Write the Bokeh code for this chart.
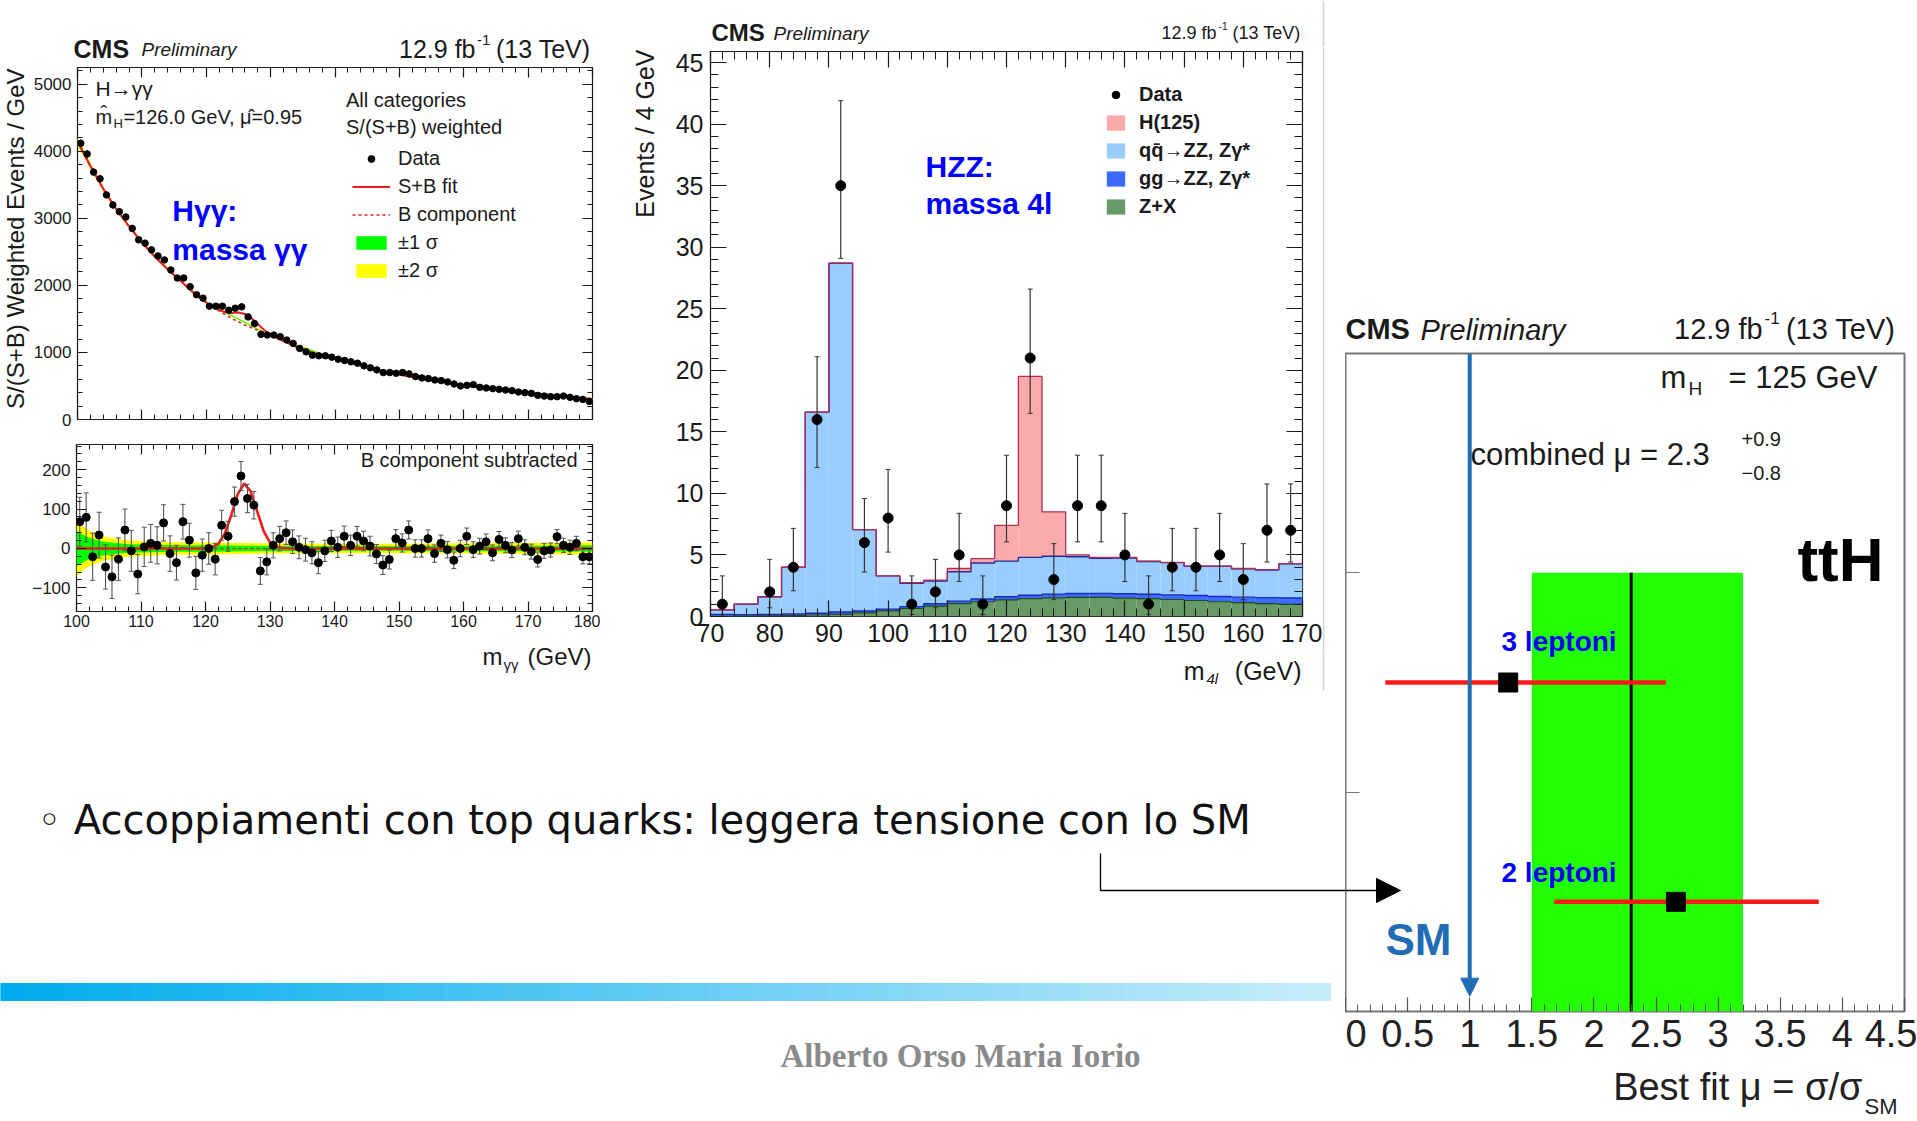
import numpy as np
from bokeh.plotting import figure
from bokeh.models import (Range1d, Label, LinearAxis, Legend, LegendItem, Arrow, NormalHead,
                          Spacer, SingleIntervalTicker, FixedTicker, NumeralTickFormatter)
from bokeh.layouts import row, column
from bokeh.embed import file_html
from bokeh.resources import INLINE

# ======================= DATA =======================
# --- H -> gamma gamma : upper panel, S/(S+B) weighted events / GeV (1 GeV bins) ---
hgg_mass = np.arange(100.5, 180.0, 1.0)
hgg_events = [4120, 3960, 3690, 3590, 3350, 3200, 3100, 3020, 2850, 2680,
              2630, 2530, 2440, 2380, 2230, 2110, 2110, 1980, 1860, 1810,
              1690, 1690, 1690, 1630, 1660, 1680, 1530, 1430, 1270, 1260,
              1260, 1235, 1185, 1135, 1060, 1010, 960, 950, 950, 930,
              900, 880, 860, 840, 800, 770, 740, 700, 700, 690,
              700, 680, 640, 620, 610, 590, 580, 560, 530, 500,
              510, 520, 480, 470, 460, 450, 440, 430, 410, 400,
              390, 360, 350, 340, 340, 350, 330, 310, 300, 270]
hgg_err = [62, 62, 60, 58, 56, 55, 54, 53, 52, 50,
           50, 48, 47, 46, 45, 44, 44, 43, 42, 41,
           40, 40, 38, 38, 37, 37, 36, 35, 34, 33,
           32, 31, 30, 30, 29, 29, 28, 28, 27, 27,
           26, 26, 26, 25, 25, 25, 24, 24, 24, 23,
           23, 23, 22, 22, 22, 22, 21, 21, 21, 21,
           21, 20, 20, 20, 20, 20, 19, 19, 19, 19,
           19, 19, 19, 18, 18, 18, 18, 18, 18, 18]
# background component of the fit
hgg_bkg_mass = np.arange(100, 181, 2)
hgg_bkg = [4150, 3780, 3440, 3140, 2880, 2640, 2430, 2240, 2070, 1890,
           1745, 1620, 1505, 1410, 1330, 1250, 1170, 1085, 1010, 955,
           905, 860, 815, 760, 700, 670, 635, 600, 570, 540,
           510, 485, 460, 440, 420, 400, 380, 360, 345, 325, 305]
# signal component of the fit
hgg_sig_mass = np.arange(119, 134, 1)
hgg_sig = [0, 1, 3, 12, 38, 85, 138, 165, 145, 95, 45, 15, 4, 1, 0]
# lower panel: B component subtracted
hgg_sub = [68, 79, -21, 34, -47, -72, -27, 47, -6, -65,
           4, 13, 8, 65, -13, -36, 68, 21, -62, -17,
           0, -27, 59, 31, 119, 184, 127, 110, -57, -34,
           8, 25, 40, 17, 3, -3, -11, -36, -6, 19,
           3, 31, 8, 31, 19, 6, -14, -42, -28, 25,
           14, 47, 0, 0, 25, -13, 13, -3, -30, 0,
           31, -3, 6, 17, -11, 23, 8, -4, 25, 3,
           -8, -28, -6, -4, 30, 8, 3, 13, -21, -21]
hgg_band_mass = [100, 101, 102, 103, 104, 106, 108, 110, 115, 120, 130, 140, 150, 160, 170, 180]
hgg_band1 = [45, 35, 27, 22, 18, 14, 11, 10, 8, 8, 7, 6, 6, 7, 7, 8]
hgg_band2 = [72, 55, 45, 38, 32, 25, 21, 19, 16, 15, 13, 12, 12, 13, 14, 16]

# --- H -> ZZ -> 4l : events / 4 GeV ---
hzz_edges = np.arange(70, 171, 4)
hzz_zx = [0.02, 0.03, 0.05, 0.08, 0.12, 0.18, 0.30, 0.45, 0.65, 0.85, 1.05, 1.20, 1.35,
          1.45, 1.52, 1.55, 1.55, 1.50, 1.45, 1.38, 1.30, 1.20, 1.12, 1.05, 0.98]
hzz_gg = [0.15, 0.12, 0.12, 0.12, 0.15, 0.18, 0.15, 0.15, 0.15, 0.18, 0.20, 0.22, 0.25,
          0.28, 0.30, 0.32, 0.33, 0.35, 0.36, 0.38, 0.40, 0.42, 0.45, 0.48, 0.52]
hzz_qq = [0.38, 0.85, 1.43, 3.80, 16.33, 28.34, 6.61, 2.70, 1.90, 1.85, 2.39, 2.93, 2.90,
          3.07, 3.08, 2.98, 2.84, 2.90, 2.66, 2.62, 2.38, 2.46, 2.31, 2.25, 2.78]
hzz_h = [0, 0, 0, 0, 0, 0, 0, 0, 0.05, 0.08, 0.26, 0.35, 2.90,
         14.70, 3.60, 0.15, 0.08, 0.05, 0.03, 0.02, 0.02, 0.02, 0.02, 0.02, 0.02]
hzz_data_mass = [72, 80, 84, 88, 92, 96, 100, 104, 108, 112, 116, 120, 124, 128, 132, 136,
                 140, 144, 148, 152, 156, 160, 164, 168]
hzz_data = [1, 2, 4, 16, 35, 6, 8, 1, 2, 5, 1, 9, 21, 3, 9, 9, 5, 1, 4, 4, 5, 3, 7, 7]
hzz_data_lo = [0.17, 0.71, 2.09, 12.1, 29.1, 3.62, 5.23, 0.17, 0.71, 2.84, 0.17, 6.06, 16.5,
               1.37, 6.06, 6.06, 2.84, 0.17, 2.09, 2.09, 2.84, 1.37, 4.42, 4.42]
hzz_data_hi = [3.30, 4.64, 7.16, 21.1, 41.9, 9.58, 11.95, 3.30, 4.64, 8.38, 3.30, 13.1, 26.6,
               5.92, 13.1, 13.1, 8.38, 3.30, 7.16, 7.16, 8.38, 5.92, 10.77, 10.77]

# --- ttH signal strength ---
tth_channels = ["2 leptoni", "3 leptoni"]
tth_y = [0.5, 1.5]
tth_mu = [2.66, 1.31]
tth_lo = [1.68, 0.32]
tth_hi = [3.81, 2.58]
tth_comb = 2.3
tth_comb_lo = 1.5
tth_comb_hi = 3.2
tth_sm = 1.0

# ======================= HELPERS =======================
FONT = "Liberation Sans"
INK = "#1a1a1a"
RED = "#ee1c1c"


def base_fig(w, h, xr, yr, bl, br, bt, bb):
    p = figure(width=w, height=h, x_range=Range1d(*xr), y_range=Range1d(*yr),
               output_backend="svg", toolbar_location=None,
               min_border_left=bl, min_border_right=br, min_border_top=bt, min_border_bottom=bb)
    p.grid.visible = False
    p.outline_line_color = INK
    p.outline_line_width = 1.2
    p.background_fill_color = "white"
    p.border_fill_color = "white"
    return p


def strip(x0, y0, w, h):
    s = figure(width=w, height=h, x_range=Range1d(x0, x0 + w), y_range=Range1d(y0 + h, y0),
               output_backend="svg", toolbar_location=None, min_border=0,
               x_axis_location=None, y_axis_location=None)
    s.grid.visible = False
    s.outline_line_color = None
    s.background_fill_color = "white"
    s.border_fill_color = "white"
    return s


def solo(p):
    # wrap a figure so that its frame is not aligned with its siblings
    return column(p)


def style_axis(ax, ticker, tmaj, tmin, size, standoff, labels=True, color=INK, lcolor=INK):
    ax.ticker = ticker
    ax.axis_line_color = None
    ax.major_tick_in = tmaj
    ax.major_tick_out = 0
    ax.minor_tick_in = tmin
    ax.minor_tick_out = 0
    ax.major_tick_line_color = color
    ax.minor_tick_line_color = color
    ax.major_tick_line_width = 1.2
    ax.minor_tick_line_width = 1
    ax.major_label_text_font = FONT
    if labels:
        ax.major_label_text_color = lcolor
        ax.major_label_text_font_size = size
        ax.major_label_standoff = standoff
    else:
        ax.major_label_text_color = None
        ax.major_label_text_font_size = "0px"
        ax.major_label_standoff = 0


def mirror(p, place, ticker, tmaj, tmin, color=INK):
    ax = LinearAxis()
    style_axis(ax, ticker, tmaj, tmin, "0px", 0, labels=False, color=color)
    p.add_layout(ax, place)


def mapper(xd0, xd1, px0, px1, yd0, yd1, py0, py1):
    def f(px, py):
        return (xd0 + (px - px0) * (xd1 - xd0) / (px1 - px0),
                yd0 + (py - py0) * (yd1 - yd0) / (py1 - py0))
    return f


IDENT = lambda px, py: (px, py)


def put(p, m, px, py, text, size, color=INK, style="normal", align="left",
        baseline="middle", angle=0.0, font=FONT, alpha=1.0):
    x, y = m(px, py)
    p.add_layout(Label(x=x, y=y, text=text, text_font=font, text_font_size=f"{size}px",
                       text_color=color, text_font_style=style, text_align=align,
                       text_baseline=baseline, angle=angle, text_alpha=alpha))


def title_block(s, xl, y, cms_size, pre_size, lumi_size, xr, pre_x):
    put(s, IDENT, xl, y, "CMS", cms_size, style="bold")
    put(s, IDENT, pre_x, y + 1, "Preliminary", pre_size, style="italic")
    w_tev = 3.89 * lumi_size
    put(s, IDENT, xr, y, "(13 TeV)", lumi_size, align="right")
    put(s, IDENT, xr - w_tev - 3, y - lumi_size * 0.35, "-1", int(lumi_size * 0.6), align="right")
    put(s, IDENT, xr - w_tev - 4 - 0.55 * lumi_size, y, "12.9 fb", lumi_size, align="right")


def tick(interval):
    return SingleIntervalTicker(interval=interval, num_minor_ticks=5)


# ======================= H -> gamma gamma =======================
s_ht_title = strip(0, 0, 600, 63)
title_block(s_ht_title, 73, 48, 25, 19, 25, 590, 141)

s_ht_y = strip(0, 63, 30, 369)
put(s_ht_y, IDENT, 15, 68, "S/(S+B) Weighted Events / GeV", 24, align="right", angle=np.pi / 2)

ht = base_fig(570, 369, (100, 180), (0, 5250), 46, 8, 4, 13)
m_ht = mapper(100, 180, 76, 592, 0, 5250, 419, 67)
style_axis(ht.below[0], tick(10), 10, 5, "0px", 0, labels=False)
style_axis(ht.left[0], tick(1000), 10, 5, "17px", 6)
mirror(ht, "above", tick(10), 10, 5)
mirror(ht, "right", tick(1000), 10, 5)

band_c = np.interp(hgg_band_mass, hgg_bkg_mass, hgg_bkg)
r_y = ht.varea(x=hgg_band_mass, y1=band_c - np.array(hgg_band2), y2=band_c + np.array(hgg_band2),
               fill_color="#ffff00")
r_g = ht.varea(x=hgg_band_mass, y1=band_c - np.array(hgg_band1), y2=band_c + np.array(hgg_band1),
               fill_color="#00ff00")
grid = np.union1d(hgg_bkg_mass, hgg_sig_mass)
sb = np.interp(grid, hgg_bkg_mass, hgg_bkg) + np.interp(grid, hgg_sig_mass, hgg_sig, left=0, right=0)
r_sb = ht.line(grid, sb, line_color=RED, line_width=2)
r_b = ht.line(hgg_bkg_mass, hgg_bkg, line_color=RED, line_width=1.6, line_dash="3 3")
ev = np.array(hgg_events)
er = np.array(hgg_err)
ht.segment(x0=hgg_mass, y0=ev - er, x1=hgg_mass, y1=ev + er, line_color="#333333", line_width=1)
r_d = ht.scatter(hgg_mass, ev, size=6.5, marker="circle", fill_color="black", line_color="black")

leg = Legend(items=[LegendItem(label="Data", renderers=[r_d]),
                    LegendItem(label="S+B fit", renderers=[r_sb]),
                    LegendItem(label="B component", renderers=[r_b]),
                    LegendItem(label="\u00b11 \u03c3", renderers=[r_g]),
                    LegendItem(label="\u00b12 \u03c3", renderers=[r_y])],
             location=(275, 135))
leg.glyph_width = 38
leg.glyph_height = 17
leg.label_standoff = 8
leg.spacing = 0
leg.padding = 0
leg.margin = 0
leg.label_height = 28
leg.label_text_font = FONT
leg.label_text_font_size = "20px"
leg.label_text_color = INK
leg.background_fill_alpha = 0
leg.border_line_alpha = 0
ht.add_layout(leg)

put(ht, m_ht, 94, 88, "H\u2192\u03b3\u03b3", 21)
put(ht, m_ht, 94, 116, "m\u0302", 20)
put(ht, m_ht, 112, 123, "H", 13)
put(ht, m_ht, 122, 116, "=126.0 GeV, \u03bc\u0302=0.95", 20)
put(ht, m_ht, 345, 99, "All categories", 20)
put(ht, m_ht, 345, 126, "S/(S+B) weighted", 20)
put(ht, m_ht, 171, 210, "H\u03b3\u03b3:", 30, color="#0000ff", style="bold")
put(ht, m_ht, 171, 249, "massa \u03b3\u03b3", 30, color="#0000ff", style="bold")

hb = base_fig(600, 205, (100, 180), (-160, 264), 76, 8, 12, 26)
m_hb = mapper(100, 180, 76, 592, -160, 264, 611, 444)
style_axis(hb.below[0], tick(10), 10, 5, "16px", 3)
style_axis(hb.left[0], tick(100), 10, 5, "17px", 6)
mirror(hb, "above", tick(10), 10, 5)
mirror(hb, "right", tick(100), 10, 5)
hb.varea(x=hgg_band_mass, y1=-np.array(hgg_band2), y2=np.array(hgg_band2), fill_color="#ffff00")
hb.varea(x=hgg_band_mass, y1=-np.array(hgg_band1), y2=np.array(hgg_band1), fill_color="#00ff00")
hb.line(hgg_bkg_mass, np.zeros(len(hgg_bkg_mass)), line_color=RED, line_width=1.6, line_dash="3 3")
sx = np.concatenate([[hgg_bkg_mass[0]], hgg_sig_mass, [hgg_bkg_mass[-1]]])
sy = np.concatenate([[0], hgg_sig, [0]])
hb.line(sx, sy, line_color=RED, line_width=2.6)
sub = np.array(hgg_sub)
hb.segment(x0=hgg_mass, y0=sub - er, x1=hgg_mass, y1=sub + er, line_color="#555555", line_width=1.1)
hb.scatter(hgg_mass, sub - er, marker="dash", size=5, line_color="#555555")
hb.scatter(hgg_mass, sub + er, marker="dash", size=5, line_color="#555555")
hb.scatter(hgg_mass, sub, size=8, marker="circle", fill_color="black", line_color="black")
put(hb, m_hb, 577, 459, "B component subtracted", 20, align="right")

s_hb_x = strip(0, 637, 600, 63)
put(s_hb_x, IDENT, 591, 656, "(GeV)", 24, align="right")
put(s_hb_x, IDENT, 502, 656, "m", 24, align="right")
put(s_hb_x, IDENT, 503, 664, "\u03b3\u03b3", 15)

hgg_block = column(solo(s_ht_title), row(solo(s_ht_y), solo(ht)), solo(hb), solo(s_hb_x))

# ======================= H -> ZZ -> 4l =======================
GRAYLINE = "#d2d2d2"
s_hz_title = strip(600, 0, 745, 47)
title_block(s_hz_title, 711, 32, 24, 19, 18, 1300, 773)
s_hz_title.line([1323, 1323], [0, 47], line_color=GRAYLINE, line_width=1.5)

s_hz_y = strip(600, 47, 60, 607)
put(s_hz_y, IDENT, 644, 49, "Events / 4 GeV", 25, align="right", angle=np.pi / 2)

hz = base_fig(662, 607, (70, 170), (0, 45.9), 50, 20, 4, 38)
m_hz = mapper(70, 170, 710, 1302, 0, 45.9, 616, 51)
style_axis(hz.below[0], tick(10), 16, 8, "25px", 7)
style_axis(hz.left[0], tick(5), 16, 8, "25px", 7)
mirror(hz, "above", tick(10), 16, 8)
mirror(hz, "right", tick(5), 16, 8)
left_e = hzz_edges[:-1]
right_e = hzz_edges[1:]
t1 = np.array(hzz_zx)
t2 = t1 + np.array(hzz_gg)
t3 = t2 + np.array(hzz_qq)
t4 = t3 + np.array(hzz_h)
r_zx = hz.quad(left=left_e, right=right_e, bottom=0, top=t1, fill_color="#669966", line_color=None)
r_gg = hz.quad(left=left_e, right=right_e, bottom=t1, top=t2, fill_color="#3d6bff", line_color=None)
r_qq = hz.quad(left=left_e, right=right_e, bottom=t2, top=t3, fill_color="#99ccff", line_color=None)
r_h = hz.quad(left=left_e, right=right_e, bottom=t3, top=t4, fill_color="#faaaaa", line_color=None)
hz.step(hzz_edges, np.append(t1, t1[-1]), mode="after", line_color="#1f4d1f", line_width=1.2)
hz.step(hzz_edges, np.append(t2, t2[-1]), mode="after", line_color="#1a2fb0", line_width=1.4)
hz.step(hzz_edges, np.append(t3, t3[-1]), mode="after", line_color="#2a2a9a", line_width=1.4)
hz.step(hzz_edges, np.append(t4, t4[-1]), mode="after", line_color="#b0305a", line_width=1.3)
hz.segment(x0=hzz_data_mass, y0=hzz_data_lo, x1=hzz_data_mass, y1=hzz_data_hi,
           line_color="#333333", line_width=1.2)
hz.scatter(hzz_data_mass, hzz_data_lo, marker="dash", size=5, line_color="#333333")
hz.scatter(hzz_data_mass, hzz_data_hi, marker="dash", size=5, line_color="#333333")
r_hd = hz.scatter(hzz_data_mass, hzz_data, size=10, marker="circle", fill_color="black", line_color="black")

leg2 = Legend(items=[LegendItem(label="Data", renderers=[r_hd]),
                     LegendItem(label="H(125)", renderers=[r_h]),
                     LegendItem(label="qq\u0304\u2192ZZ, Z\u03b3*", renderers=[r_qq]),
                     LegendItem(label="gg\u2192ZZ, Z\u03b3*", renderers=[r_gg]),
                     LegendItem(label="Z+X", renderers=[r_zx])],
              location=(394, 396))
leg2.glyph_width = 23
leg2.glyph_height = 19
leg2.label_standoff = 12
leg2.spacing = 0
leg2.padding = 0
leg2.margin = 0
leg2.label_height = 28
leg2.label_text_font = FONT
leg2.label_text_font_size = "20px"
leg2.label_text_font_style = "bold"
leg2.label_text_color = INK
leg2.background_fill_alpha = 0
leg2.border_line_alpha = 0
hz.add_layout(leg2)
put(hz, m_hz, 925, 166, "HZZ:", 30, color="#0000ff", style="bold")
put(hz, m_hz, 925, 203, "massa 4l", 30, color="#0000ff", style="bold")

s_hz_r = strip(1322, 47, 23, 607)
s_hz_r.line([1323, 1323], [47, 654], line_color=GRAYLINE, line_width=1.5)

s_hz_x = strip(600, 654, 745, 46)
put(s_hz_x, IDENT, 1301, 670, "(GeV)", 25, align="right")
put(s_hz_x, IDENT, 1204, 670, "m", 25, align="right")
put(s_hz_x, IDENT, 1206, 678, "4l", 15, style="italic")
s_hz_x.line([1323, 1323], [654, 690], line_color=GRAYLINE, line_width=1.5)

hzz_block = column(solo(s_hz_title), row(solo(s_hz_y), solo(hz), solo(s_hz_r)), solo(s_hz_x))

# ======================= ttH =======================
s_tt_title = strip(1345, 300, 572, 49)
title_block(s_tt_title, 1345, 328, 29, 29, 29, 1895, 1420)

tt = base_fig(572, 715, (0, 4.5), (0, 3), 0, 13, 4, 53)
m_tt = mapper(0, 4.5, 1345, 1904, 0, 3, 1011, 353)
tt.outline_line_color = "#777777"
tt.outline_line_width = 2
style_axis(tt.below[0], tick(0.5), 14, 7, "38px", 8, color="#555555", lcolor="#222222")
tt.below[0].formatter = NumeralTickFormatter(format="0.[0]")
style_axis(tt.left[0], FixedTicker(ticks=[1, 2], minor_ticks=[]), 14, 0, "0px", 0, labels=False,
           color="#777777")
n_ch = len(tth_y)
tt.quad(left=[tth_comb_lo], right=[tth_comb_hi], bottom=[0], top=[n_ch],
        fill_color="#22ff00", line_color=None)
tt.segment(x0=[tth_comb], y0=[0], x1=[tth_comb], y1=[n_ch], line_color="black", line_width=3)
tt.segment(x0=tth_lo, y0=tth_y, x1=tth_hi, y1=tth_y, line_color="#ff1a1a", line_width=4.5)
tt.scatter(tth_mu, tth_y, marker="square", size=19, fill_color="black", line_color="black")
SMBLUE = "#1f6db5"
tt.add_layout(Arrow(x_start=tth_sm, y_start=3, x_end=tth_sm, y_end=0.07, line_color=SMBLUE,
                    line_width=4, end=NormalHead(size=18, fill_color=SMBLUE, line_color=SMBLUE)))
ax0, ay0 = m_tt(1345, 890)
ax1, ay1 = m_tt(1400, 890)
tt.add_layout(Arrow(x_start=ax0, y_start=ay0, x_end=ax1, y_end=ay1, line_color="black",
                    line_width=1.3, end=NormalHead(size=24, fill_color="black", line_color="black")))
put(tt, m_tt, 1660, 377, "m", 31)
put(tt, m_tt, 1688, 388, "H", 19)
put(tt, m_tt, 1877, 377, "= 125 GeV", 31, align="right")
put(tt, m_tt, 1470, 454, "combined \u03bc = 2.3", 31)
put(tt, m_tt, 1741, 438, "+0.9", 20)
put(tt, m_tt, 1741, 472, "\u22120.8", 20)
put(tt, m_tt, 1883, 559, "ttH", 62, color="black", style="bold", align="right")
put(tt, m_tt, 1501, 641, tth_channels[1], 28, color="#0000ff", style="bold")
put(tt, m_tt, 1501, 872, tth_channels[0], 28, color="#0000ff", style="bold")
put(tt, m_tt, 1385, 939, "SM", 44, color=SMBLUE, style="bold")

s_tt_x = strip(1345, 1064, 572, 57)
put(s_tt_x, IDENT, 1862, 1086, "Best fit \u03bc = \u03c3/\u03c3", 38, color="#222222", align="right")
put(s_tt_x, IDENT, 1864, 1106, "SM", 22, color="#222222")

tth_block = column(Spacer(width=572, height=300), solo(s_tt_title), solo(tt), solo(s_tt_x))

# ======================= slide area =======================
bf = strip(0, 700, 1345, 421)
nseg = 90
xs = np.linspace(0, 1330, nseg + 1)
c0 = np.array([0, 172, 238])
c1 = np.array([198, 236, 251])
cols = []
for i in range(nseg):
    t = i / (nseg - 1)
    c = (c0 + (c1 - c0) * t).astype(int)
    cols.append("#%02x%02x%02x" % tuple(c))
bf.quad(left=xs[:-1], right=xs[1:], top=983, bottom=1000, fill_color=cols, line_color=cols)
bf.line(x=[1100, 1100, 1345], y=[853, 890, 890], line_color="black", line_width=1.3)
txt = "\u25e6 Accoppiamenti con top quarks: leggera tensione con lo SM"
put(bf, IDENT, 37, 819, txt, 40, color="#111111", font="DejaVu Sans")
put(bf, IDENT, 960, 1055, "Alberto Orso Maria Iorio", 33, color="#8a8a8a", style="bold",
    align="center", font="Liberation Serif")

# ======================= layout =======================
left_col = column(row(hgg_block, hzz_block), solo(bf))
root = row(left_col, tth_block)
open("out.html", "w").write(file_html(root, INLINE, title="ttH"))
